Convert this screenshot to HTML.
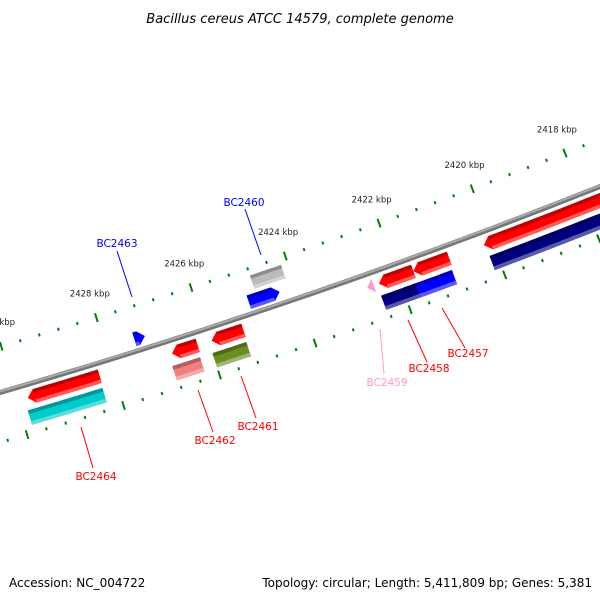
<!DOCTYPE html>
<html><head><meta charset="utf-8"><style>
html,body{margin:0;padding:0;background:#fff;}
svg{display:block;}
text{font-family:"DejaVu Sans","Liberation Sans",sans-serif;}
</style></head><body>
<svg id="map" width="600" height="600" viewBox="0 0 600 600" xmlns="http://www.w3.org/2000/svg">
<text x="300" y="23" text-anchor="middle" font-size="13" font-style="italic" fill="#000">Bacillus cereus ATCC 14579, complete genome</text>
<g id="ticks"></g>
<g id="backbone"></g>
<g id="features"></g>
<g id="labels"></g>
<text x="9" y="587" font-size="12" fill="#000">Accession: NC_004722</text>
<text x="592" y="587" text-anchor="end" font-size="12" fill="#000">Topology: circular; Length: 5,411,809 bp; Genes: 5,381</text>
</svg>
<script>
// data
const featNames = ["BC2464g","BC2464","BC2462g","BC2462","BC2461g","BC2461","BC2459","BC2458g","BC2457g","BC2458","BC2457","BC2456g","BC2456","BC2460g","BC2460","BC2463"];
const featStart = [2429.78,2429.85,2426.77,2426.84,2425.94,2426.0,2422.66,2422.41,2421.68,2422.45,2421.72,2420.18,2420.15,2424.8,2424.99,2427.4];
const featEnd   = [2428.28,2428.3,2426.23,2426.26,2425.27,2425.29,2422.52,2421.68,2420.92,2421.72,2420.95,2416.0,2416.0,2424.14,2424.34,2427.18];
const featTrack = [1,2,1,2,1,2,1,1,1,2,2,1,2,-2,-1,-1];
const featArrow = [1,0,1,0,1,0,1,1,1,0,0,1,0,0,-1,-1];
const featColor = ["#ff0000","#00cccc","#ff0000","#f08080","#ff0000","#6b8e23","#ff99cc","#ff0000","#ff0000","#000080","#0000ff","#ff0000","#000080","#bbbbbb","#0000ff","#0000ff"];
const tickMajor = [2418,2420,2422,2424,2426,2428,2430];
const tickLabels = ["2418 kbp","2420 kbp","2422 kbp","2424 kbp","2426 kbp","2428 kbp","2430 kbp"];
const labelText = ["BC2464","BC2462","BC2461","BC2459","BC2458","BC2457","BC2463","BC2460"];
const labelColor = ["#ff0000","#ff0000","#ff0000","#ff99cc","#ff0000","#ff0000","#0000ff","#0000ff"];
const labelPos = [[96,480],[215,444],[258,430],[387,386],[429,372],[468,357],[117,247],[244,206]];
const labelLine = [[81,427,93,468],[198,390,213,432],[241,376,256,418],[380,329,384,374],[408,320,427,362],[442,308,465,348],[117,251,132,297],[245,209,261,255]];

// axis functions
const NS="http://www.w3.org/2000/svg";
const cx=-1857, cy=-5994, RB=6651;
const theta0=Math.atan2(223-cy,379-cx);
const K=0.00752;
function ang(kbp){return theta0+(kbp-2422)*K;}
function pt(kbp,r){const t=ang(kbp);return [cx+r*Math.cos(t),cy+r*Math.sin(t)];}
function mk(tag,attrs,parent){const e=document.createElementNS(NS,tag);for(const k in attrs)e.setAttribute(k,attrs[k]);parent.appendChild(e);return e;}
function arcPts(a,b,r,n){const out=[];for(let i=0;i<=n;i++){out.push(pt(a+(b-a)*i/n,r));}return out;}
function P(arr){return arr.map(p=>p[0].toFixed(1)+","+p[1].toFixed(1)).join(" ");}

// backbone
const bb=document.getElementById('backbone');
let l1=mk('polyline',{points:P(arcPts(2431.5,2416,RB,40)),fill:'none',stroke:'#777','stroke-width':5},bb);


let l2=mk('polyline',{points:P(arcPts(2431.5,2416,RB-1,40)),fill:'none',stroke:'#aaa','stroke-width':2},bb);



// ticks
const tg=document.getElementById('ticks');
const rings=[RB-44,RB+48];
for(let ri=0;ri<2;ri++){
  const r=rings[ri];
  for(let k=2416;k<=2431.01;k+=0.4){
    const kk=Math.round(k*10)/10;
    const major=Math.abs(kk/2-Math.round(kk/2))<0.01;
    const len=major?4.5:1.5;
    const a=pt(kk,r-len),b=pt(kk,r+len);
    const ln=mk('line',{x1:a[0],y1:a[1],x2:b[0],y2:b[1],stroke:'#008000','stroke-width':2},tg);
    
    
  }
}
tickMajor.forEach((k,i)=>{
  const p=pt(k,RB-44-22);
  const t=mk('text',{x:p[0],y:p[1],'text-anchor':'middle','font-size':8.5,fill:'#222'},tg);
  t.textContent=tickLabels[i];
  
  
});

// features
const fg=document.getElementById('features');
const trackR={"1":[RB+6,RB+20],"2":[RB+25,RB+40],"-1":[RB-19,RB-5],"-2":[RB-37,RB-23]};
function shade(hex,f){const n=parseInt(hex.slice(1),16);let r=n>>16,g=(n>>8)&255,b=n&255;
  if(f<0){r=Math.round(r*(1+f));g=Math.round(g*(1+f));b=Math.round(b*(1+f));}
  else{r=Math.round(r+(255-r)*f);g=Math.round(g+(255-g)*f);b=Math.round(b+(255-b)*f);}
  return "rgb("+r+","+g+","+b+")";}
featNames.forEach((nm,i)=>{
  const [r1,r2]=trackR[String(featTrack[i])];
  let s=featStart[i],e=featEnd[i];
  const al=0.14;
  let poly;
  const rm=(r1+r2)/2;
  if(featArrow[i]===1){
    const sb=s-al*Math.sign(s-e);
    poly=[pt(s,rm)].concat(arcPts(sb,e,r1,12)).concat(arcPts(e,sb,r2,12));
  } else if(featArrow[i]===-1){
    const eb=e+al*Math.sign(s-e);
    poly=arcPts(s,eb,r1,12).concat([pt(e,rm)]).concat(arcPts(eb,s,r2,12));
  } else {
    poly=arcPts(s,e,r1,12).concat(arcPts(e,s,r2,12));
  }
  const g=mk('g',{},fg);
  
  
  mk('polygon',{points:P(poly),fill:featColor[i]},g);
  const w=r2-r1;
  const sE=featArrow[i]===1?s-al*Math.sign(s-e):s;
  const eE=featArrow[i]===-1?e+al*Math.sign(s-e):e;
  mk('polygon',{points:P(arcPts(sE,eE,r1,12).concat(arcPts(eE,sE,r1+w*0.25,12))),fill:shade(featColor[i],-0.25)},g);
  mk('polygon',{points:P(arcPts(sE,eE,r2-w*0.25,12).concat(arcPts(eE,sE,r2,12))),fill:shade(featColor[i],0.35)},g);
});

// labels
const lg=document.getElementById('labels');
labelText.forEach((t,i)=>{
  const L=labelLine[i];
  const ln=mk('line',{x1:L[0],y1:L[1],x2:L[2],y2:L[3],stroke:labelColor[i],'stroke-width':1},lg);
  
  
  const tx=mk('text',{x:labelPos[i][0],y:labelPos[i][1],'text-anchor':'middle','font-size':10.5,fill:labelColor[i]},lg);
  tx.textContent=t;
  
  
});
</script>
</body></html>
